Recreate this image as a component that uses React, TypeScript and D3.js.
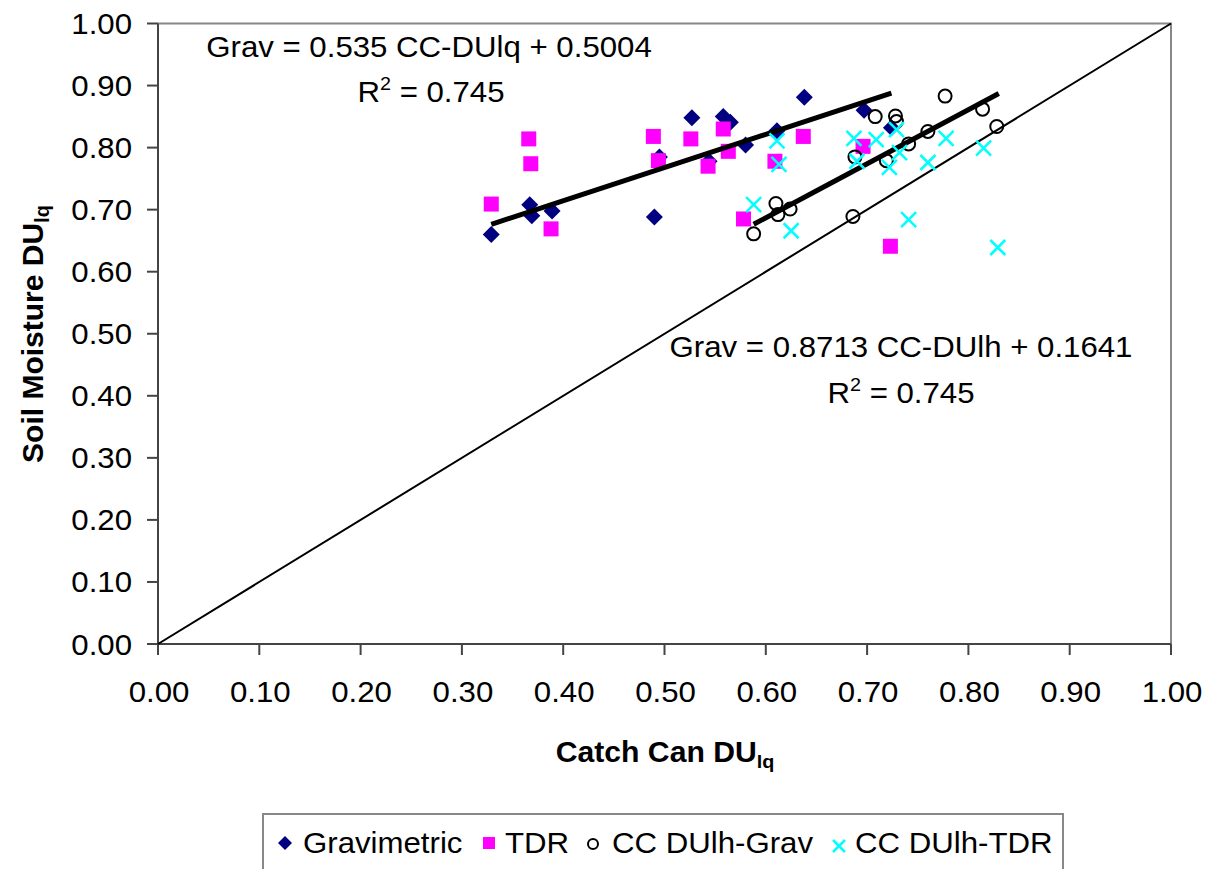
import React from 'react';
import * as d3 from 'd3';

// Gravimetric (Catch Can DUlq vs Soil Moisture DUlq)
const gravX = [0.329, 0.367, 0.369, 0.389, 0.490, 0.495, 0.527, 0.544, 0.558, 0.565, 0.580, 0.611, 0.638, 0.697, 0.724];
const gravY = [0.660, 0.708, 0.690, 0.698, 0.688, 0.785, 0.848, 0.778, 0.850, 0.841, 0.804, 0.827, 0.881, 0.860, 0.832];
// TDR
const tdrX = [0.329, 0.366, 0.368, 0.388, 0.489, 0.494, 0.526, 0.543, 0.558, 0.563, 0.578, 0.609, 0.637, 0.696, 0.723];
const tdrY = [0.709, 0.814, 0.774, 0.669, 0.818, 0.779, 0.814, 0.770, 0.830, 0.794, 0.685, 0.778, 0.818, 0.802, 0.641];
// CC DUlh-Grav
const ccGravX = [0.588, 0.610, 0.612, 0.624, 0.686, 0.688, 0.708, 0.728, 0.729, 0.719, 0.741, 0.760, 0.777, 0.814, 0.828];
const ccGravY = [0.661, 0.710, 0.692, 0.701, 0.689, 0.785, 0.850, 0.851, 0.842, 0.779, 0.806, 0.826, 0.883, 0.862, 0.834];
// CC DUlh-TDR
const ccTdrX = [0.588, 0.625, 0.611, 0.613, 0.687, 0.690, 0.709, 0.729, 0.732, 0.722, 0.741, 0.760, 0.778, 0.815, 0.829];
const ccTdrY = [0.708, 0.666, 0.811, 0.773, 0.815, 0.778, 0.813, 0.829, 0.792, 0.768, 0.684, 0.776, 0.815, 0.799, 0.639];

// Trendlines
const trend1 = { slope: 0.535, intercept: 0.5004, x0: 0.329, x1: 0.724 };
const trend2 = { slope: 0.8713, intercept: 0.1641, x0: 0.588, x1: 0.830 };

const ticks = [0, 0.1, 0.2, 0.3, 0.4, 0.5, 0.6, 0.7, 0.8, 0.9, 1.0];
const legendLabels = ['Gravimetric', 'TDR', 'CC DUlh-Grav', 'CC DUlh-TDR'];

const FONT = 'Arial, "Liberation Sans", sans-serif';
const SX = 1.04;

function T({ x, y, size = 30, anchor = 'start', weight = 'normal', children }: any) {
  return (
    <text
      transform={`translate(${x},${y}) scale(${SX},1)`}
      fontSize={size}
      fontFamily={FONT}
      fontWeight={weight}
      textAnchor={anchor}
      fill="#000"
    >
      {children}
    </text>
  );
}

const diamond = (h: number) => `M0,${-h}L${h},0L0,${h}L${-h},0Z`;
const cross = (h: number) => `M${-h},${-h}L${h},${h}M${-h},${h}L${h},${-h}`;

export default function App() {
  const x = d3.scaleLinear().domain([0, 1]).range([158, 1171]);
  const y = d3.scaleLinear().domain([0, 1]).range([644, 23.5]);
  const fmt = d3.format('.2f');
  const line = d3.line<[number, number]>().x(d => x(d[0])).y(d => y(d[1]));

  const tl = (t: any) => line([[t.x0, t.slope * t.x0 + t.intercept], [t.x1, t.slope * t.x1 + t.intercept]]) as string;

  return (
    <svg width={1215} height={869} style={{ position: 'absolute', left: 0, top: 0, background: '#fff' }}>
      <rect x={0} y={0} width={1215} height={869} fill="#fff" />
      {/* plot border top/right */}
      <path d={`M${x(0)},${y(1)}H${x(1)}V${y(0)}`} fill="none" stroke="#888" strokeWidth={2} />
      {/* axes */}
      <line x1={x(0)} x2={x(0)} y1={y(0)} y2={y(1)} stroke="#444" strokeWidth={2} />
      <line x1={x(0)} x2={x(1)} y1={y(0)} y2={y(0)} stroke="#444" strokeWidth={2} />
      {ticks.map(t => (
        <g key={'yt' + t}>
          <line x1={x(0) - 11} x2={x(0)} y1={y(t)} y2={y(t)} stroke="#444" strokeWidth={2} />
          <T x={132} y={y(t) + 10.5} anchor="end">{fmt(t)}</T>
        </g>
      ))}
      {ticks.map(t => (
        <g key={'xt' + t}>
          <line x1={x(t)} x2={x(t)} y1={y(0)} y2={y(0) + 11} stroke="#444" strokeWidth={2} />
          <T x={x(t) + 1} y={702} anchor="middle">{fmt(t)}</T>
        </g>
      ))}
      {/* 1:1 line */}
      <path d={line([[0, 0], [1, 1]]) as string} stroke="#000" strokeWidth={2} fill="none" />

      {gravX.map((v, i) => (
        <path key={'g' + i} d={diamond(8.5)} transform={`translate(${x(v)},${y(gravY[i])})`} fill="#000080" />
      ))}
      {tdrX.map((v, i) => (
        <rect key={'t' + i} x={x(v) - 7.5} y={y(tdrY[i]) - 7.5} width={15} height={15} fill="#FF00FF" />
      ))}
      <path d={tl(trend1)} stroke="#000" strokeWidth={5} fill="none" />
      <path d={tl(trend2)} stroke="#000" strokeWidth={5} fill="none" />
      {ccGravX.map((v, i) => (
        <circle key={'c' + i} cx={x(v)} cy={y(ccGravY[i])} r={6.5} fill="none" stroke="#000" strokeWidth={2} />
      ))}
      {ccTdrX.map((v, i) => (
        <path key={'x' + i} d={cross(7.5)} transform={`translate(${x(v)},${y(ccTdrY[i])})`} stroke="#00FFFF" strokeWidth={2.5} fill="none" />
      ))}

      {/* equations */}
      <T x={429} y={57} anchor="middle">Grav = 0.535 CC-DUlq + 0.5004</T>
      <T x={431} y={102} anchor="middle">R<tspan fontSize={19} dy={-12}>2</tspan><tspan dy={12}> = 0.745</tspan></T>
      <T x={901} y={357} anchor="middle">Grav = 0.8713 CC-DUlh + 0.1641</T>
      <T x={901} y={403} anchor="middle">R<tspan fontSize={19} dy={-12}>2</tspan><tspan dy={12}> = 0.745</tspan></T>

      {/* axis titles */}
      <T x={665} y={762} size={29} anchor="middle" weight="bold">Catch Can DU<tspan fontSize={19} dy={6}>lq</tspan></T>
      <text transform={`translate(43,334) rotate(-90)`} fontSize={30} fontFamily={FONT} fontWeight="bold" textAnchor="middle">
        Soil Moisture DU<tspan fontSize={20} dy={6}>lq</tspan>
      </text>

      {/* legend */}
      <rect x={263} y={814} width={800} height={60} fill="#fff" stroke="#888" strokeWidth={2} />
      <path d={diamond(7)} transform="translate(285,843)" fill="#000080" />
      <T x={303} y={853}>{legendLabels[0]}</T>
      <rect x={483} y={837} width={12} height={12} fill="#FF00FF" />
      <T x={505} y={853}>{legendLabels[1]}</T>
      <circle cx={593} cy={844} r={5} fill="none" stroke="#000" strokeWidth={2} />
      <T x={612} y={853}>{legendLabels[2]}</T>
      <path d={cross(6)} transform="translate(839,846)" stroke="#00FFFF" strokeWidth={2.5} fill="none" />
      <T x={855} y={853}>{legendLabels[3]}</T>
    </svg>
  );
}
